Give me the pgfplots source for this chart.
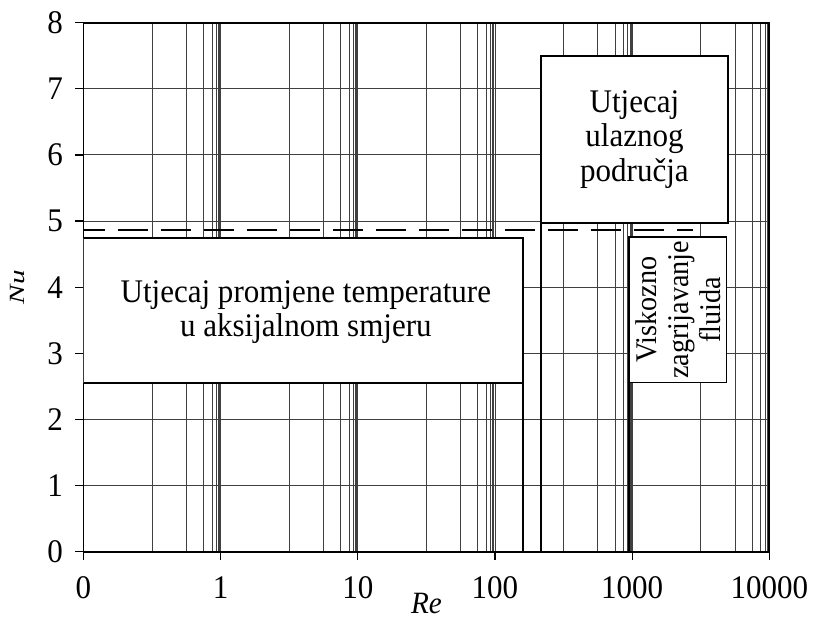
\documentclass[border=0pt]{standalone}
\usepackage{fontspec}
\setmainfont{Liberation Serif}[FakeStretch=0.94]
\usepackage{pgfplots}
\pgfplotsset{compat=1.18}

\begin{document}
\begin{tikzpicture}
\begin{axis}[
  scale only axis,
  width=685.8bp, height=529bp,
  xmode=log, log basis x=10,
  xmin=0.1, xmax=10000, ymin=0, ymax=8,
  xtick={0.1,1,10,100,1000,10000},
  xticklabels={0,1,10,100,1000,10000},
  ytick={0,1,2,3,4,5,6,7,8},
  minor xtick={0.3162,0.5623,0.7499,0.8660,0.9306,0.9647,0.9822,
               3.162,5.623,7.499,8.660,9.306,9.647,9.822,
               31.62,56.23,74.99,86.60,93.06,96.47,98.22,
               316.2,562.3,749.9,866.0,930.6,964.7,982.2,
               3162,5623,7499,8660,9306,9647,9822},
  grid=both,
  major grid style={line width=0.9bp, black!75},
  minor grid style={line width=0.9bp, black!75},
  axis line style={line width=1.8bp, black},
  tick align=outside,
  xtick pos=bottom, ytick pos=left,
  major tick length=8.5bp,
  minor tick length=0pt,
  tick style={line width=1.2bp, black},
  /pgf/number format/assume math mode=true,
  ticklabel style={font=\fontsize{33bp}{33bp}\selectfont, inner sep=0pt},
  xticklabel style={anchor=base, yshift=-37.8bp},
  yticklabel style={anchor=east, xshift=-12bp},
  xlabel={\textit{Re}},
  ylabel={\scalebox{1}[0.7]{\textit{Nu}}},
  label style={font=\fontsize{31bp}{31bp}\selectfont, inner sep=0pt},
  xlabel style={at={(axis description cs:0.5,0)}, anchor=base, yshift=-61.5bp},
  ylabel style={at={(axis description cs:0,0.5)}, anchor=center, yshift=66bp},
]
\coordinate (sw) at (rel axis cs:0,0);
\coordinate (ne) at (rel axis cs:1,1);

% dashed reference line
\addplot[black, line width=1.8bp, dash pattern=on 30bp off 13bp, dash phase=8.5bp] coordinates {(0.1,4.86) (2800,4.86)};

% box: temperature change along axis
\addplot[draw=black, fill=white, line width=1.8bp] coordinates {(0.1,2.55) (160,2.55) (160,4.74) (0.1,4.74)} -- cycle;
\addplot[black, line width=1.8bp] coordinates {(160,0) (160,2.55)};

% box: entrance region
\addplot[draw=black, fill=white, line width=1.8bp] coordinates {(216,4.97) (5000,4.97) (5000,7.5) (216,7.5)} -- cycle;
\addplot[black, line width=1.8bp] coordinates {(216,0) (216,4.97)};

% box: viscous heating
\addplot[draw=black, fill=white, line width=1.8bp] coordinates {(950,2.56) (4880,2.56) (4880,4.765) (950,4.765)} -- cycle;
\addplot[black, line width=1.8bp] coordinates {(950,0) (950,2.56)};

\node[align=center, font=\fontsize{33bp}{34.5bp}\selectfont] at (axis cs:4.18,3.62) {Utjecaj promjene temperature\\u aksijalnom smjeru};
\node[align=center, font=\fontsize{33bp}{34.5bp}\selectfont] at (axis cs:1040,6.235) {Utjecaj\\ulaznog\\područja};
\node[rotate=90, align=center, font=\fontsize{30bp}{32bp}\selectfont] at (axis cs:2157,3.66) {Viskozno\\zagrijavanje\\fluida};
\end{axis}
\pgfresetboundingbox
\path ([shift={(-83.5bp,-67.3bp)}]sw) rectangle ([shift={(43.7bp,22.7bp)}]ne);
\end{tikzpicture}
\end{document}
